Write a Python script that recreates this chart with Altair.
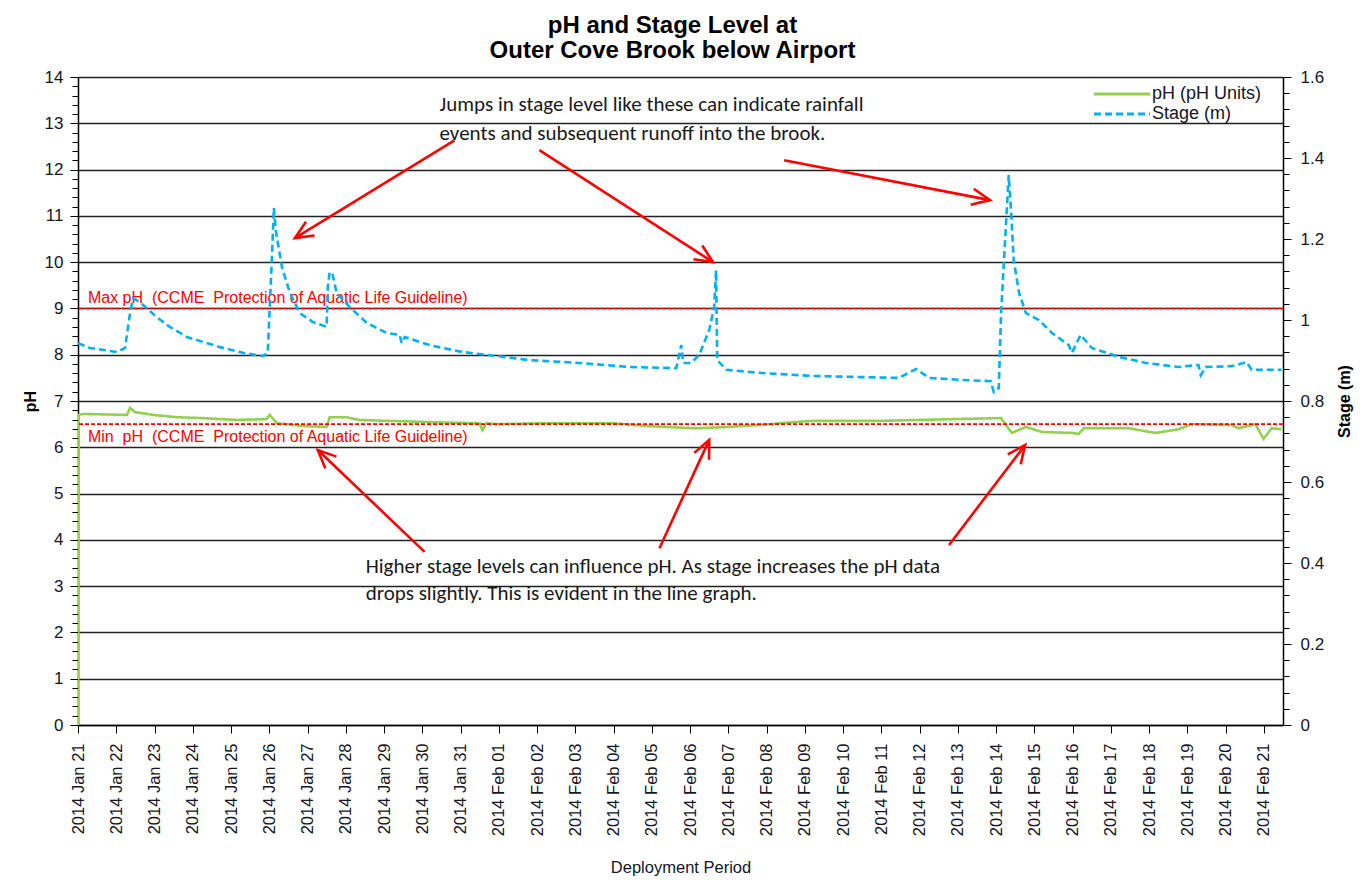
import math
import altair as alt
import pandas as pd

# ---------------- data ----------------
TITLE_LINES = ["pH and Stage Level at", "Outer Cove Brook below Airport"]
SERIES = ["pH (pH Units)", "Stage (m)"]
START = "2014-01-21"

# days since 2014-01-21 00:00 and stage (m)
stage_days = [0.00, 0.31, 1.02, 1.23, 1.36, 1.44, 1.62, 2.06, 2.40, 2.85,
              3.71, 4.31, 4.83, 4.96, 5.07, 5.12, 5.17, 5.33, 5.54, 5.80,
              6.14, 6.50, 6.53, 6.58, 6.66, 6.76, 7.10, 7.55, 8.07, 8.41,
              8.46, 8.54, 9.19, 10.05, 10.68, 11.80, 13.11, 14.41, 15.64, 15.77,
              15.82, 16.03, 16.24, 16.50, 16.63, 16.68, 16.71, 16.95, 17.89, 19.19,
              20.50, 21.46, 21.91, 22.25, 23.11, 23.86, 23.94, 24.07, 24.13, 24.33,
              24.39, 24.46, 24.60, 24.78, 25.12, 25.46, 25.90, 25.98, 26.21, 26.50,
              27.21, 27.91, 28.77, 29.29, 29.35, 29.48, 30.16, 30.55, 30.68, 31.46]
stage_m = [0.943, 0.931, 0.921, 0.931, 1.017, 1.054, 1.044, 1.007, 0.983, 0.958,
           0.933, 0.919, 0.911, 0.918, 1.156, 1.277, 1.222, 1.131, 1.067, 1.017,
           0.995, 0.983, 1.081, 1.119, 1.111, 1.067, 1.032, 0.993, 0.968, 0.963,
           0.943, 0.958, 0.938, 0.921, 0.914, 0.901, 0.894, 0.884, 0.881, 0.938,
           0.894, 0.894, 0.914, 0.975, 1.032, 1.123, 0.901, 0.877, 0.869, 0.862,
           0.859, 0.857, 0.879, 0.857, 0.852, 0.849, 0.822, 0.832, 1.017, 1.358,
           1.272, 1.148, 1.067, 1.017, 1.000, 0.968, 0.938, 0.919, 0.963, 0.931,
           0.909, 0.894, 0.884, 0.889, 0.864, 0.884, 0.886, 0.896, 0.877, 0.877]

# days since 2014-01-21 00:00 and pH
ph_days = [0.00, 0.02, 0.13, 1.28, 1.36, 1.49, 1.96, 2.58, 3.26, 4.15,
           4.93, 5.01, 5.20, 5.87, 6.50, 6.58, 7.02, 7.36, 8.15, 9.37,
           10.50, 10.57, 10.68, 10.94, 12.25, 13.97, 14.86, 16.16, 17.02, 18.15,
           18.33, 19.19, 20.94, 22.95, 24.13, 24.41, 24.78, 25.20, 25.98, 26.16,
           26.29, 27.47, 28.17, 28.77, 29.11, 30.16, 30.34, 30.78, 30.99, 31.20,
           31.46]
ph_vals = [0.00, 6.70, 6.72, 6.70, 6.85, 6.76, 6.70, 6.65, 6.63, 6.59,
           6.61, 6.70, 6.52, 6.46, 6.44, 6.65, 6.65, 6.59, 6.57, 6.54,
           6.52, 6.37, 6.52, 6.50, 6.52, 6.52, 6.46, 6.41, 6.44, 6.50,
           6.52, 6.57, 6.57, 6.61, 6.63, 6.31, 6.44, 6.33, 6.31, 6.29,
           6.41, 6.41, 6.31, 6.39, 6.50, 6.48, 6.41, 6.50, 6.18, 6.41,
           6.39]

# CCME guidelines
guide_ph = [9.0, 6.5]
guide_text = ["Max pH\u00a0 (CCME\u00a0 Protection of Aquatic Life Guideline)",
              "Min\u00a0 pH\u00a0 (CCME\u00a0 Protection of Aquatic Life Guideline)"]
guide_label_day = [0.26, 0.26]
guide_label_ph = [9.22, 6.22]

# annotation texts (left edge day, pH level)
note_text = ["Jumps in stage level like these can indicate rainfall",
             "events and subsequent runoff into the brook.",
             "Higher stage levels can influence pH. As stage increases the pH data",
             "drops slightly.  This is evident in the line graph."]
note_day = [9.45, 9.45, 7.52, 7.52]
note_ph = [13.39, 12.76, 3.41, 2.83]

# arrows (start -> end) in data units
arrow_start_day = [9.84, 12.06, 18.46, 9.06, 15.20, 22.77]
arrow_start_ph = [12.63, 12.42, 12.20, 3.74, 3.82, 3.89]
arrow_end_day = [5.67, 16.60, 23.84, 6.27, 16.50, 24.76]
arrow_end_ph = [10.52, 10.00, 11.34, 5.94, 6.16, 6.05]

tick_dates = list(pd.date_range("2014-01-21", "2014-02-21", freq="D"))

# ---------------- styling ----------------
W, H = 1205, 648
X_DAYS = 31.5
GREEN = "#92D050"
BLUE = "#00B0F0"
RED = "#FF0000"
TXT = "#151525"
FONT = "Liberation Sans"


def to_iso(days):
    base = pd.Timestamp(START)
    return [(base + pd.to_timedelta(d, unit="D")).strftime("%Y-%m-%dT%H:%M:%S") for d in days]


stage_df = pd.DataFrame({"time": to_iso(stage_days), "value": stage_m, "series": SERIES[1]})
ph_df = pd.DataFrame({"time": to_iso(ph_days), "value": ph_vals, "series": SERIES[0]})
guide_df = pd.DataFrame({"ph": guide_ph, "text": guide_text,
                         "time": to_iso(guide_label_day), "ly": guide_label_ph})
note_df = pd.DataFrame({"time": to_iso(note_day), "ph": note_ph, "text": note_text})

pxd = W / X_DAYS
pxp = H / 14.0
angles = []
for sd, sp, ed, ep in zip(arrow_start_day, arrow_start_ph, arrow_end_day, arrow_end_ph):
    dxp = (ed - sd) * pxd
    dyp = -(ep - sp) * pxp
    angles.append(math.degrees(math.atan2(dxp, -dyp)) % 360)
arrow_df = pd.DataFrame({"t1": to_iso(arrow_start_day), "p1": arrow_start_ph,
                         "t2": to_iso(arrow_end_day), "p2": arrow_end_ph, "angle": angles})

x_scale = alt.Scale(domain=[alt.DateTime(year=2014, month=1, date=21, hours=0),
                            alt.DateTime(year=2014, month=2, date=21, hours=12)])
ph_scale = alt.Scale(domain=[0, 14], nice=False, zero=False)
st_scale = alt.Scale(domain=[0, 1.6], nice=False, zero=False)

x_axis = alt.Axis(
    values=[alt.DateTime(year=d.year, month=d.month, date=d.day) for d in tick_dates],
    format="%Y %b %d", labelAngle=270, labelFont=FONT, labelFontSize=16.5, labelColor=TXT,
    labelPadding=10, labelOverlap=False, tickSize=8, tickColor="black", domainColor="black",
    domainWidth=1.5, grid=False, title="Deployment Period", titleFont=FONT, titleFontSize=16.5,
    titleFontWeight="normal", titleColor=TXT, titlePadding=24)

MAJ = "abs(datum.value - round(datum.value)) < 0.001"
ph_axis = alt.Axis(
    values=[round(i * 0.2, 1) for i in range(71)],
    labelExpr=f"{MAJ} ? format(datum.value, 'd') : ''",
    labelOverlap=False, labelFont=FONT, labelFontSize=17, labelColor=TXT, labelPadding=7,
    tickSize={"condition": {"test": MAJ, "value": 8}, "value": 6},
    tickColor="black", domainColor="black", domainWidth=1.5,
    grid=True, gridColor="#222222", gridWidth=1.6,
    gridOpacity={"condition": {"test": MAJ, "value": 1}, "value": 0},
    title="pH", titleFont=FONT, titleFontSize=16, titleFontWeight="bold",
    titleColor="black", titlePadding=6)

MAJ2 = "abs(datum.value * 5 - round(datum.value * 5)) < 0.001"
st_axis = alt.Axis(
    orient="right",
    values=[round(i * 0.04, 2) for i in range(41)],
    labelExpr=f"{MAJ2} ? format(datum.value, '.1~f') : ''",
    labelOverlap=False, labelFont=FONT, labelFontSize=17, labelColor=TXT, labelPadding=9,
    tickSize={"condition": {"test": MAJ2, "value": 8}, "value": 6},
    tickColor="black", domainColor="black", domainWidth=1.5, grid=False,
    title="Stage (m)", titleFont=FONT, titleFontSize=16, titleFontWeight="bold",
    titleColor="black", titlePadding=29, titleAngle=270)

LEG_PATH = "M -8 0 L 8 0"
legend = alt.Legend(title=None, orient="none", legendX=1035, legendY=8,
                    symbolType=LEG_PATH, symbolSize=49, symbolStrokeWidth=3,
                    labelFont=FONT, labelFontSize=18, labelColor=TXT,
                    labelOffset=21, rowPadding=2)
color_enc = alt.Color("series:N", scale=alt.Scale(domain=SERIES, range=[GREEN, BLUE]), legend=legend)
dash_enc = alt.StrokeDash("series:N", scale=alt.Scale(domain=SERIES, range=[[1, 0], [7, 4]]), legend=legend)


def xenc(field):
    return alt.X(field, type="temporal", scale=x_scale, axis=x_axis)


guides = alt.Chart(guide_df).mark_rule(color=RED, strokeDash=[4, 2], strokeWidth=1.6).encode(
    y=alt.Y("ph:Q", scale=ph_scale, axis=None))
guide_labels = alt.Chart(guide_df).mark_text(
    align="left", baseline="middle", font=FONT, fontSize=16, color=RED).encode(
    x=xenc("time"), y=alt.Y("ly:Q", scale=ph_scale, axis=None), text="text:N")

ph_line = alt.Chart(ph_df).mark_line(strokeWidth=2.6, clip=True).encode(
    x=xenc("time"), y=alt.Y("value:Q", scale=ph_scale, axis=ph_axis),
    color=color_enc, strokeDash=dash_enc)

stage_line = alt.Chart(stage_df).mark_line(strokeWidth=2.6, clip=True).encode(
    x=xenc("time"), y=alt.Y("value:Q", scale=st_scale, axis=st_axis),
    color=color_enc, strokeDash=dash_enc)

notes = alt.Chart(note_df).mark_text(
    align="left", baseline="middle", font="Carlito, Lato", fontSize=21, color="#1a1a1a").encode(
    x=xenc("time"), y=alt.Y("ph:Q", scale=ph_scale, axis=None), text="text:N")

arrow_lines = alt.Chart(arrow_df).mark_rule(color=RED, strokeWidth=2.6).encode(
    x=xenc("t1"), x2="t2:T",
    y=alt.Y("p1:Q", scale=ph_scale, axis=None), y2="p2:Q")

ARROW_PATH = "M -0.45 1 L 0 0 L 0.45 1"
arrow_heads = alt.Chart(arrow_df).mark_point(
    shape=ARROW_PATH, filled=False, strokeWidth=2.6, color=RED, opacity=1,
    size=1300, strokeJoin="miter").encode(
    x=xenc("t2"), y=alt.Y("p2:Q", scale=ph_scale, axis=None),
    angle=alt.Angle("angle:Q", scale=None))

chart = alt.layer(
    ph_line, guides, guide_labels, stage_line, notes, arrow_lines, arrow_heads
).resolve_scale(y="independent").properties(
    width=W, height=H,
    autosize=alt.AutoSizeParams(type="none"),
    padding={"left": 70, "top": 69, "right": 75, "bottom": 153},
    title=alt.TitleParams(TITLE_LINES, font=FONT, fontSize=24, fontWeight="bold",
                          color="black", anchor="middle", offset=5, lineHeight=25, dx=-8),
).configure_view(stroke="black", strokeWidth=1.5).configure(background="white")

chart.save("out.html", embed_options={"renderer": "svg", "actions": False})
